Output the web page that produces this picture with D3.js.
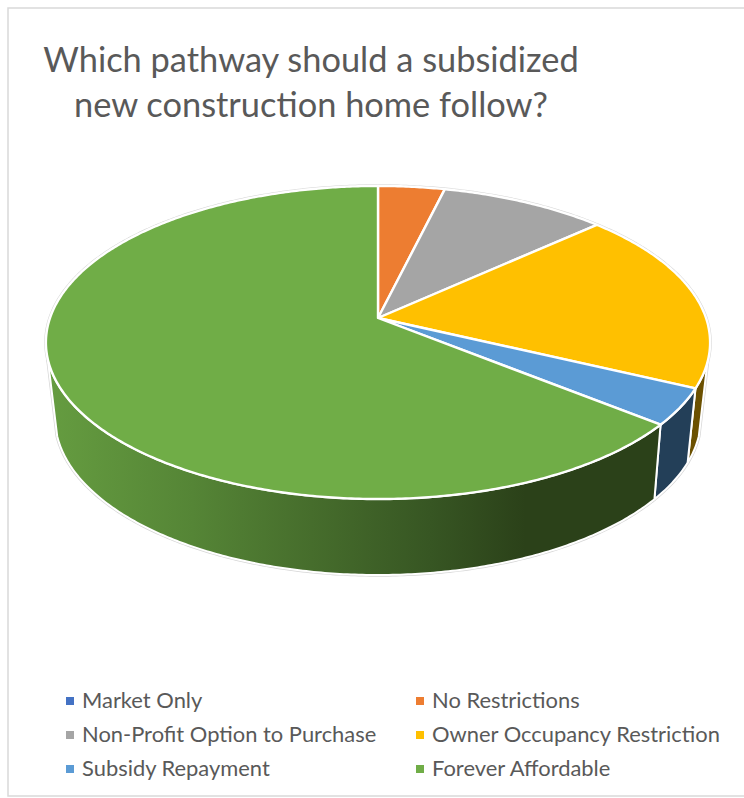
<!DOCTYPE html>
<html>
<head>
<meta charset="utf-8">
<script src="https://cdn.jsdelivr.net/npm/d3@7"></script>
<style>
  html, body { margin: 0; padding: 0; background: #fff; }
  svg { display: block; }
  text { font-family: Lato, "Open Sans", sans-serif; fill: #595959; }
</style>
</head>
<body>
<svg id="chart" width="744" height="798"></svg>
<script>
// Survey responses per pathway
const categories = ["Market Only", "No Restrictions", "Non-Profit Option to Purchase",
                    "Owner Occupancy Restriction", "Subsidy Repayment", "Forever Affordable"];
const responses = [0, 2, 5, 10, 2, 34];
const colors = ["#4472C4", "#ED7D31", "#A5A5A5", "#FFC000", "#5B9BD5", "#70AD47"];
const wallColors = ["#263f6e", "#7f4518", "#5c5c5c", "#6b5000", "#233f58", "url(#greenWall)"];
const titleLines = ["Which pathway should a subsidized", "new construction home follow?"];

const W = 744, H = 798;
const svg = d3.select("#chart");
const deg = Math.PI / 180;

// Perspective projection of the pie's top and bottom discs.
// u runs left to right on the unit disc, v runs from back to front.
const tilt = 0.1565;
const topDisc = { x: d3.scaleLinear([-1, 1], [50, 706]), y: d3.scaleLinear([-1, 1], [165.3, 470.7]) };
const lowDisc = { x: d3.scaleLinear([-1, 1], [59, 697]), y: d3.scaleLinear([-1, 1], [240.2, 546.6]) };
const lowDiscTwist = -0.5 * deg;

function project(disc, angle) {
  const u = Math.sin(angle), v = -Math.cos(angle), w = 1 - tilt * v;
  return [disc.x(u / w), disc.y(v / w)];
}
const arcSamples = (a0, a1) => {
  const n = Math.max(2, Math.ceil((a1 - a0) / 0.01));
  return d3.range(n + 1).map(i => a0 + (a1 - a0) * i / n);
};
const line = d3.line();

const slices = d3.pie().sort(null).value(d => d)(responses).map((s, i) => ({ ...s, i }));

function facePath(s) {
  const centre = [topDisc.x(0), topDisc.y(0)];
  return line([centre, ...arcSamples(s.startAngle, s.endAngle).map(a => project(topDisc, a))]) + "Z";
}
function wallPath(s, from, to) {
  const a0 = Math.max(s.startAngle, from), a1 = Math.min(s.endAngle, to);
  if (a1 <= a0) return null;
  const angles = arcSamples(a0, a1);
  return line([...angles.map(a => project(topDisc, a)),
               ...angles.slice().reverse().map(a => project(lowDisc, a + lowDiscTwist))]) + "Z";
}

// Chart frame
svg.append("rect").attr("width", W).attr("height", H).attr("fill", "#fff");
svg.append("path")
  .attr("d", `M${W + 2},8H8V796H${W + 2}`)
  .attr("fill", "none").attr("stroke", "#d9d9d9").attr("stroke-width", 1.5);

// Shading along the front wall of the largest slice
const grad = svg.append("defs").append("linearGradient")
  .attr("id", "greenWall").attr("gradientUnits", "userSpaceOnUse")
  .attr("x1", 50).attr("x2", 525).attr("y1", 0).attr("y2", 0);
[[0, "#659c40"], [0.3, "#558536"], [0.55, "#466d2c"], [0.8, "#375623"], [1, "#2b4119"]]
  .forEach(([o, c]) => grad.append("stop").attr("offset", o).attr("stop-color", c));

// The wall is visible between the points where it leaves the top rim's silhouette
const wallFrom = 106 * deg, wallTo = 255 * deg;
const walls = slices.map(s => ({ s, d: wallPath(s, wallFrom, wallTo) })).filter(w => w.d);
const faces = slices.filter(s => s.data > 0);

// Thin grey halo around the silhouette
const halo = svg.append("g").attr("fill", "none").attr("stroke", "#d6d6d6").attr("stroke-width", 3.4);
halo.selectAll("path").data(walls).join("path").attr("d", w => w.d);
halo.append("path").attr("d", line(arcSamples(0, 2 * Math.PI).map(a => project(topDisc, a))) + "Z");

svg.append("g").selectAll("path").data(walls).join("path")
  .attr("d", w => w.d)
  .attr("fill", w => wallColors[w.s.i])
  .attr("stroke", "#fff").attr("stroke-width", 2).attr("stroke-linejoin", "round");

svg.append("g").selectAll("path").data(faces).join("path")
  .attr("d", facePath)
  .attr("fill", s => colors[s.i])
  .attr("stroke", "#fff").attr("stroke-width", 2.4).attr("stroke-linejoin", "round");

// Title
const titleY = d3.scalePoint().domain(titleLines).range([72, 117]);
svg.append("g").selectAll("text").data(titleLines).join("text")
  .attr("x", 311).attr("y", d => titleY(d))
  .attr("text-anchor", "middle").attr("font-size", 34.4)
  .text(d => d);

// Legend laid out in two columns and three rows
const legendX = d3.scaleOrdinal([0, 1], [66, 416]);
const legendY = d3.scalePoint().domain([0, 1, 2]).range([708, 776]);
const entry = svg.append("g").selectAll("g").data(categories).join("g")
  .attr("transform", (d, i) => `translate(${legendX(i % 2)},${legendY(Math.floor(i / 2))})`);
entry.append("rect").attr("y", -11).attr("width", 8).attr("height", 8).attr("fill", (d, i) => colors[i]);
entry.append("text").attr("transform", "translate(16,0) scale(1.08,1)").attr("font-size", 20.3).text(d => d);
</script>
</body>
</html>
